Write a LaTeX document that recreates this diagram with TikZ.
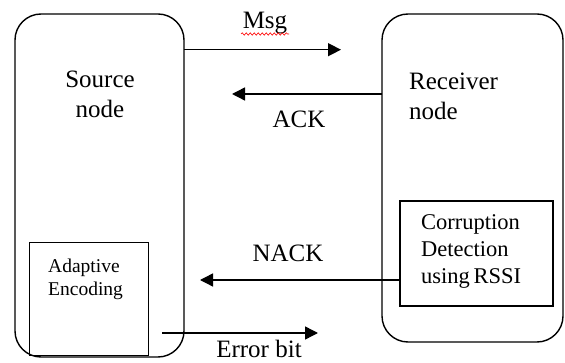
\documentclass[tikz,border=0pt]{standalone}
\usepackage{fontspec}
\setmainfont{Liberation Serif}
\usetikzlibrary{arrows.meta,decorations.pathmorphing}
\begin{document}
\begin{tikzpicture}[x=1pt,y=-1pt,
  outer/.style={draw,line width=1.4pt,rounded corners=26pt},
  inner/.style={draw,line width=1.4pt},
  link/.style={line width=1.4pt,-{Triangle[length=13pt,width=13pt]}},
  big/.style={font=\fontsize{25}{30}\selectfont,inner sep=0pt},
  lbl/.style={font=\fontsize{25}{30}\selectfont,inner sep=0pt}]
\useasboundingbox (0,0) rectangle (565,363);
% containers
\draw[outer] (15,14) rectangle (184,357);
\draw[outer] (382,14) rectangle (563,342);
% inner boxes
\node[inner,minimum width=119pt,minimum height=113pt,inner sep=0pt] (enc) at (89,299) {};
\node[inner,minimum width=153pt,minimum height=105pt,inner sep=0pt] (det) at (476.5,253.5) {};
% texts
\node[big,align=center] (srctxt) at (100,94) {Source\\node};
\node[big,align=left,anchor=west] (rcvtxt) at (409,96) {Receiver\\node};
\node[font=\fontsize{19.5}{23}\selectfont,inner sep=0pt,align=left,anchor=west] (enctxt) at (48,279) {Adaptive\\Encoding};
\node[font=\fontsize{22.5}{27}\selectfont,inner sep=0pt,align=left,anchor=west] (dettxt) at (421,251) {Corruption\\Detection\\using\,RSSI};
% connector endpoints
\coordinate (msgS) at (184,49.7);
\coordinate (msgE) at (341,49.7);
\coordinate (ackS) at (382,94);
\coordinate (ackE) at (232,94);
\coordinate (nackS) at (det.west |- 0,280);
\coordinate (nackE) at (200,280);
\coordinate (errS) at (162,333);
\coordinate (errE) at (318,333);
\draw[link] (msgS) -- (msgE);
\draw[link] (ackS) -- (ackE);
\draw[link] (nackS) -- (nackE);
\draw[link] (errS) -- (errE);
% labels
\node[lbl] (msglbl) at (265,23) {Msg};
\node[lbl] (acklbl) at (299,119) {ACK};
\node[lbl] (nacklbl) at (288,253) {NACK};
\node[lbl] (errlbl) at (259,349) {Error bit};
\draw[red,line width=0.6pt,decorate,decoration={snake,amplitude=1.2pt,segment length=4pt}] (241,34) -- (289,34);
\end{tikzpicture}
\end{document}
